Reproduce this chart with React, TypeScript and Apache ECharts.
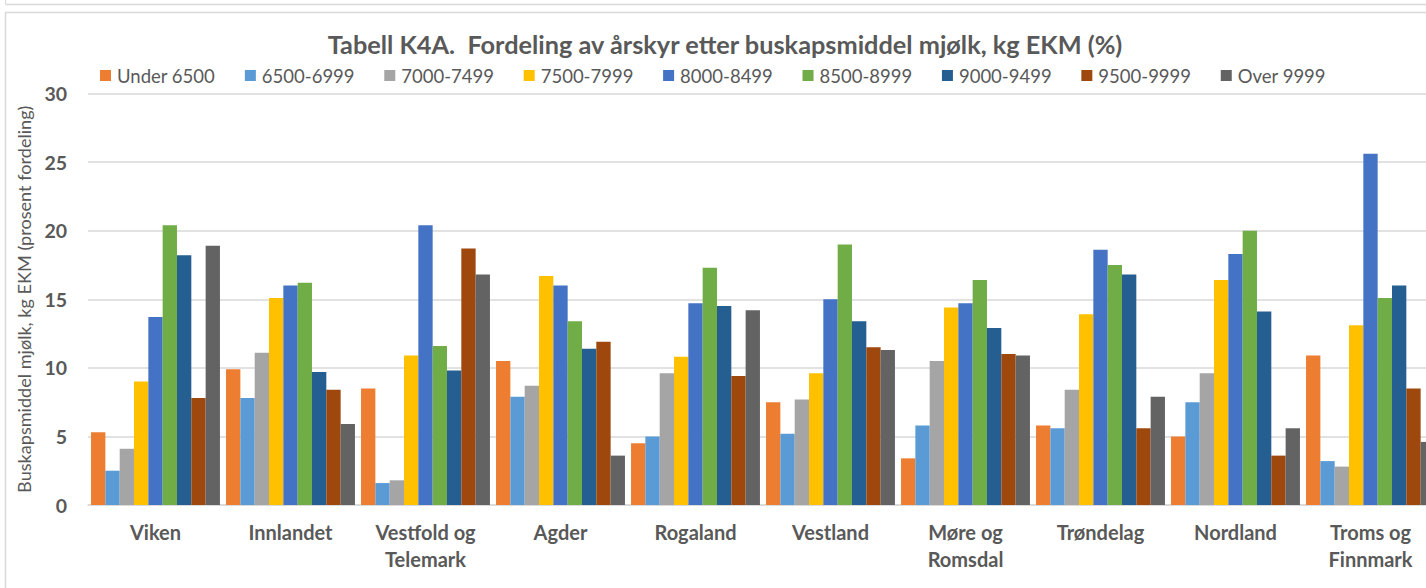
import React, { useEffect, useRef } from "react";
import * as echarts from "echarts";

const categories = [
  "Viken",
  "Innlandet",
  "Vestfold og\nTelemark",
  "Agder",
  "Rogaland",
  "Vestland",
  "Møre og\nRomsdal",
  "Trøndelag",
  "Nordland",
  "Troms og\nFinnmark",
];

const seriesNames = [
  "Under 6500",
  "6500-6999",
  "7000-7499",
  "7500-7999",
  "8000-8499",
  "8500-8999",
  "9000-9499",
  "9500-9999",
  "Over 9999",
];

const under6500 = [5.3, 9.9, 8.5, 10.5, 4.5, 7.5, 3.4, 5.8, 5.0, 10.9];
const s6500_6999 = [2.5, 7.8, 1.6, 7.9, 5.0, 5.2, 5.8, 5.6, 7.5, 3.2];
const s7000_7499 = [4.1, 11.1, 1.8, 8.7, 9.6, 7.7, 10.5, 8.4, 9.6, 2.8];
const s7500_7999 = [9.0, 15.1, 10.9, 16.7, 10.8, 9.6, 14.4, 13.9, 16.4, 13.1];
const s8000_8499 = [13.7, 16.0, 20.4, 16.0, 14.7, 15.0, 14.7, 18.6, 18.3, 25.6];
const s8500_8999 = [20.4, 16.2, 11.6, 13.4, 17.3, 19.0, 16.4, 17.5, 20.0, 15.1];
const s9000_9499 = [18.2, 9.7, 9.8, 11.4, 14.5, 13.4, 12.9, 16.8, 14.1, 16.0];
const s9500_9999 = [7.8, 8.4, 18.7, 11.9, 9.4, 11.5, 11.0, 5.6, 3.6, 8.5];
const over9999 = [18.9, 5.9, 16.8, 3.6, 14.2, 11.3, 10.9, 7.9, 5.6, 4.6];

const seriesValues = [
  under6500,
  s6500_6999,
  s7000_7499,
  s7500_7999,
  s8000_8499,
  s8500_8999,
  s9000_9499,
  s9500_9999,
  over9999,
];

const colors = [
  "#ED7D31",
  "#5B9BD5",
  "#A5A5A5",
  "#FFC000",
  "#4472C4",
  "#70AD47",
  "#255E91",
  "#9E480E",
  "#636363",
];

const yTicks = { min: 0, max: 30, interval: 5 };

const FONT = "Lato, 'Open Sans', sans-serif";
const TEXT = "#595959";

export default function App() {
  const ref = useRef<HTMLDivElement>(null);

  useEffect(() => {
    if (!ref.current) return;
    const chart = echarts.init(ref.current, null, { renderer: "svg" });
    chart.setOption({
      animation: false,
      color: colors,
      backgroundColor: "#ffffff",
      title: {
        text: "Tabell K4A.  Fordeling av årskyr etter buskapsmiddel mjølk, kg EKM (%)",
        left: 720,
        textAlign: "center",
        top: 26,
        textStyle: {
          fontFamily: FONT,
          fontWeight: "bold",
          fontSize: 25.3,
          color: TEXT,
        },
      },
      legend: {
        left: 100,
        top: 66,
        padding: 0,
        itemWidth: 11,
        itemHeight: 11,
        itemGap: 29.7,
        icon: "rect",
        textStyle: {
          fontFamily: FONT,
          fontSize: 18.5,
          color: TEXT,
          padding: [0, 0, 0, 1],
        },
        data: seriesNames,
      },
      grid: {
        left: 88,
        right: 22,
        top: 93.5,
        bottom: 588 - 505,
        containLabel: false,
      },
      xAxis: {
        type: "category",
        data: categories,
        axisLine: { lineStyle: { color: "#d9d9d9", width: 1.5 } },
        axisTick: { show: false },
        axisLabel: {
          margin: 13,
          fontFamily: FONT,
          fontWeight: "bold",
          fontSize: 20,
          lineHeight: 27,
          color: TEXT,
          interval: 0,
        },
      },
      yAxis: {
        type: "value",
        min: yTicks.min,
        max: yTicks.max,
        interval: yTicks.interval,
        name: "Buskapsmiddel mjølk, kg EKM (prosent fordeling)",
        nameLocation: "middle",
        nameRotate: 90,
        nameGap: 42,
        nameTextStyle: {
          fontFamily: FONT,
          fontSize: 18.1,
          color: TEXT,
        },
        axisLine: { show: false },
        axisTick: { show: false },
        splitLine: { lineStyle: { color: "#d9d9d9", width: 1.5 } },
        axisLabel: {
          margin: 21,
          fontFamily: FONT,
          fontWeight: "bold",
          fontSize: 19.5,
          color: TEXT,
        },
      },
      graphic: [
        {
          type: "line",
          shape: { x1: 5.5, y1: 0, x2: 5.5, y2: 4.5 },
          style: { stroke: "#d9d9d9", lineWidth: 1 },
        },
        {
          type: "line",
          shape: { x1: 5.5, y1: 4.5, x2: 1460, y2: 4.5 },
          style: { stroke: "#d9d9d9", lineWidth: 1.5 },
        },
        {
          type: "rect",
          shape: { x: 5.5, y: 12.5, width: 1500, height: 700 },
          style: { fill: "none", stroke: "#d9d9d9", lineWidth: 1.5 },
          silent: true,
        },
      ],
      series: seriesNames.map((name, i) => ({
        name,
        type: "bar",
        data: seriesValues[i],
        barGap: "0%",
        barCategoryGap: "4.5%",
        itemStyle: { color: colors[i] },
      })),
    });
    return () => chart.dispose();
  }, []);

  return (
    <div
      style={{
        position: "fixed",
        left: 0,
        top: 0,
        width: 1426,
        height: 588,
        overflow: "hidden",
        background: "#ffffff",
      }}
    >
      <div ref={ref} style={{ width: 1460, height: 588 }} />
    </div>
  );
}
